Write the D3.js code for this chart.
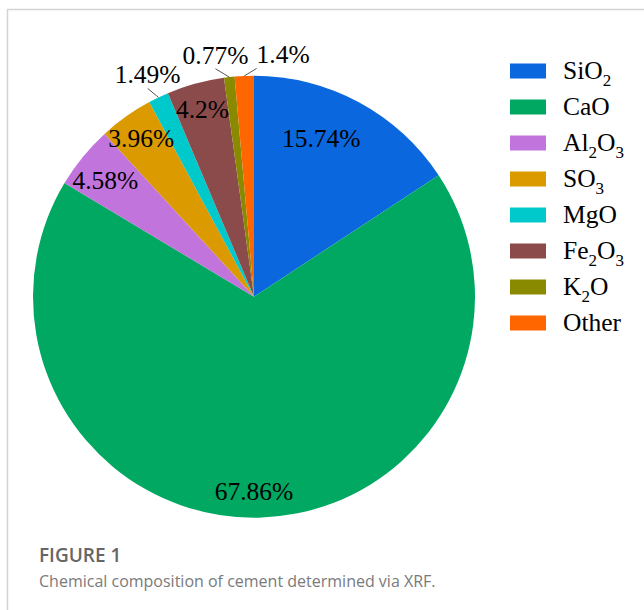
<!DOCTYPE html>
<html>
<head>
<meta charset="utf-8">
<script src="https://cdn.jsdelivr.net/npm/d3@7"></script>
<style>
  html, body { margin: 0; padding: 0; background: #fff; }
  svg { display: block; }
</style>
</head>
<body>
<svg id="chart" width="644" height="610"></svg>
<script>
// Oxide composition of cement (XRF), in wt %
const categories = ["SiO2", "CaO", "Al2O3", "SO3", "MgO", "Fe2O3", "K2O", "Other"];
const shares = [15.74, 67.86, 4.58, 3.96, 1.49, 4.2, 0.77, 1.4];
const sliceColors = ["#0A67DD", "#00A862", "#C274DD", "#DA9A00", "#00C9CB", "#8B4B4B", "#8A8A00", "#FF6600"];
const captionTitle = "FIGURE 1";
const captionText = "Chemical composition of cement determined via XRF.";

const W = 644, H = 610;
const cx = 254, cy = 296.7, R = 221;
const serif = "'Liberation Serif', 'Times New Roman', serif";

const svg = d3.select("#chart");

// card frame (top and left edges)
svg.append("line").attr("x1", 7).attr("x2", W).attr("y1", 9.5).attr("y2", 9.5)
  .attr("stroke", "#d3d3d3").attr("stroke-width", 1.5);
svg.append("line").attr("x1", 7.5).attr("x2", 7.5).attr("y1", 9).attr("y2", H)
  .attr("stroke", "#d3d3d3").attr("stroke-width", 1.5);

const data = categories.map((c, i) => ({ name: c, v: shares[i], color: sliceColors[i] }));

const pie = d3.pie().value(d => d.v).sort(null).startAngle(0).endAngle(2 * Math.PI);
const arcs = pie(data);
const arc = d3.arc().innerRadius(0).outerRadius(R);

const g = svg.append("g").attr("transform", `translate(${cx},${cy})`);

g.selectAll("path.slice")
  .data(arcs)
  .join("path")
  .attr("class", "slice")
  .attr("d", arc)
  .attr("fill", d => d.data.color);

// polar helper: angle measured clockwise from 12 o'clock
const polar = (a, r) => [r * Math.sin(a), -r * Math.cos(a)];
const mid = d => (d.startAngle + d.endAngle) / 2;

// small slices get their label outside with a leader line
const isSmall = d => d.data.v < 2;
const labelNudge = { SiO2: [-25, 13], CaO: [-4, 0], Al2O3: [2, 7], K2O: [-11, 3], Other: [40, 4] };
const fontSize = 25.5;

const labels = g.append("g");
arcs.forEach(d => {
  const r = isSmall(d) ? 246 : 0.88 * R;
  let [x, y] = polar(mid(d), r);
  const n = labelNudge[d.data.name] || [0, 0];
  x += n[0]; y += n[1];
  const baseline = y + 8.5;
  const t = labels.append("text")
    .attr("x", x).attr("y", baseline)
    .attr("text-anchor", "middle")
    .attr("font-family", serif)
    .attr("font-size", fontSize)
    .attr("fill", "#000")
    .text(`${d.data.v}%`);
  if (isSmall(d)) {
    const bw = t.node().getComputedTextLength();
    const [ex, ey] = polar(mid(d), R);
    let endX = x;
    if (ex < x - bw / 2) endX = x - bw / 2;
    if (ex > x + bw / 2) endX = x + bw / 2;
    labels.append("line")
      .attr("x1", ex).attr("y1", ey)
      .attr("x2", endX).attr("y2", baseline + 5)
      .attr("stroke", "#555").attr("stroke-width", 1);
  }
});

// legend
const legend = svg.append("g").attr("transform", "translate(510,71)");
const rowStep = 36;
const items = legend.selectAll("g.item")
  .data(data)
  .join("g")
  .attr("class", "item")
  .attr("transform", (d, i) => `translate(0,${i * rowStep})`);

items.append("rect")
  .attr("x", 0).attr("y", -7.5)
  .attr("width", 36).attr("height", 15)
  .attr("fill", d => d.color);

items.append("text")
  .attr("x", 53).attr("y", 7.8)
  .attr("font-family", serif)
  .attr("font-size", fontSize)
  .attr("fill", "#000")
  .each(function (d) {
    // digits in chemical formulas are written as subscripts
    const t = d3.select(this);
    const parts = d.name.match(/\d+|\D+/g);
    let sub = false;
    parts.forEach(p => {
      const isNum = /^\d+$/.test(p);
      const s = t.append("tspan").text(p);
      if (isNum && !sub) { s.attr("font-size", 17).attr("dy", 7); sub = true; }
      else if (!isNum && sub) { s.attr("dy", -7); sub = false; }
    });
  });

// caption
svg.append("text")
  .attr("x", 39).attr("y", 562)
  .attr("font-family", "'Open Sans', sans-serif")
  .attr("font-weight", 600)
  .attr("font-size", 19)
  .attr("fill", "#666")
  .text(captionTitle);

svg.append("text")
  .attr("x", 39).attr("y", 587)
  .attr("font-family", "'Open Sans', sans-serif")
  .attr("font-size", 16)
  .attr("fill", "#7a7a7a")
  .text(captionText);
</script>
</body>
</html>
